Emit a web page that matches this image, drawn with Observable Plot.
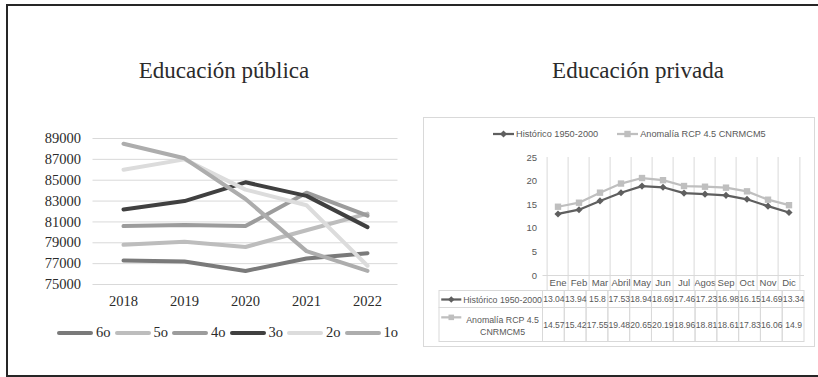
<!DOCTYPE html>
<html>
<head>
<meta charset="utf-8">
<script src="https://cdn.jsdelivr.net/npm/d3@7"></script>
<script src="https://cdn.jsdelivr.net/npm/@observablehq/plot@0.6"></script>
<style>
  html, body { margin: 0; padding: 0; background: #fff; }
  body { position: relative; width: 818px; height: 377px; overflow: hidden; }
  #frame { position: absolute; left: 6px; top: 4px; width: 900px; height: 369px;
           border: 2px solid #262626; border-right: none; }
  .title { position: absolute; font-family: "Liberation Serif", serif; font-size: 23px;
           line-height: 23px; color: #2b2b2b; white-space: nowrap; transform: translateX(-50%); }
  #pubLegend { position: absolute; left: 57px; top: 324px; display: flex; align-items: center;
               font-family: "Liberation Serif", serif; font-size: 14.5px; color: #2b2b2b; }
  #pubLegend .key { width: 36px; height: 4px; border-radius: 2px; margin-right: 3px; }
  #pubLegend .lab { margin-right: 4px; }
  #pubChart { position: absolute; left: 0; top: 120px; }
  #privBox { position: absolute; left: 423px; top: 117px; width: 392px; height: 230px;
             box-sizing: border-box; border: 1px solid #d9d9d9; background: #fff; }
  #privLegend { position: absolute; left: 69px; top: 11px; display: flex; align-items: center;
                font-family: "Liberation Sans", sans-serif; font-size: 9.2px; color: #595959; }
  #privLegend .item { display: flex; align-items: center; margin-right: 19px; }
  #privLegend svg { margin-right: 2px; }
  #privChart { position: absolute; left: 0; top: 0; }
  #privTable { position: absolute; left: 0; top: 172px; }
</style>
</head>
<body>
<div id="frame"></div>
<div class="title" style="left:224px; top:59px;">Educación pública</div>
<div class="title" style="left:638px; top:59px;">Educación privada</div>
<div id="pubChart"></div>
<div id="pubLegend"></div>
<div id="privBox">
  <div id="privLegend"></div>
  <div id="privChart"></div>
  <div id="privTable"></div>
</div>
<script>
// ---- Educación pública: enrolment by grade, 2018–2022 ----
const years = [2018, 2019, 2020, 2021, 2022];
const grades = ["6o", "5o", "4o", "3o", "2o", "1o"];
const grade6 = [77300, 77200, 76300, 77500, 78000];
const grade5 = [78800, 79100, 78600, 80200, 81800];
const grade4 = [80600, 80700, 80600, 83800, 81600];
const grade3 = [82200, 83000, 84800, 83500, 80500];
const grade2 = [86000, 87000, 84100, 82600, 76800];
const grade1 = [88500, 87100, 83200, 78200, 76300];
const enrolTicks = [75000, 77000, 79000, 81000, 83000, 85000, 87000, 89000];
const gradeColors = ["#7a7a7a", "#bdbdbd", "#9c9c9c", "#404040", "#dcdcdc", "#adadad"];

// ---- Educación privada: monthly temperature, historic vs RCP 4.5 ----
const months = ["Ene", "Feb", "Mar", "Abril", "May", "Jun", "Jul", "Agos", "Sep", "Oct", "Nov", "Dic"];
const historico = [13.04, 13.94, 15.8, 17.53, 18.94, 18.69, 17.46, 17.23, 16.98, 16.15, 14.69, 13.34];
const anomalia = [14.57, 15.42, 17.55, 19.48, 20.65, 20.19, 18.96, 18.81, 18.61, 17.83, 16.06, 14.9];
const tempTicks = [0, 5, 10, 15, 20, 25];
const seriesNames = ["Histórico 1950-2000", "Anomalía RCP 4.5 CNRMCM5"];

// Long-format rows for the public-school lines
const gradeSeries = [grade6, grade5, grade4, grade3, grade2, grade1];
const publicRows = grades.flatMap((g, k) => years.map((yr, i) => ({grade: g, year: yr, value: gradeSeries[k][i]})));

const pub = Plot.plot({
  width: 410, height: 200,
  marginLeft: 92.5, marginRight: 12.5, marginTop: 18, marginBottom: 36,
  style: {fontFamily: "Liberation Serif, serif", fontSize: "14.5px", color: "#2b2b2b", background: "transparent"},
  x: {type: "point", domain: years, padding: 0.5, label: null, tickSize: 0, tickPadding: 11, tickFormat: d => String(d)},
  y: {domain: [75000, 89000], ticks: enrolTicks, label: null, tickSize: 0, tickPadding: 12, tickFormat: d => String(d)},
  color: {domain: grades, range: gradeColors},
  marks: [
    Plot.ruleY(enrolTicks, {stroke: "#d9d9d9", strokeWidth: 1}),
    Plot.line(publicRows, {x: "year", y: "value", z: "grade", stroke: "grade",
      strokeWidth: 4, strokeLinecap: "round", strokeLinejoin: "round"})
  ]
});
document.getElementById("pubChart").append(pub);

// Legend for the grades
const pubLegend = document.getElementById("pubLegend");
grades.forEach((g, k) => {
  const key = document.createElement("span");
  key.className = "key";
  key.style.background = gradeColors[k];
  const lab = document.createElement("span");
  lab.className = "lab";
  lab.textContent = g;
  pubLegend.append(key, lab);
});

// ---- private-school chart ----
const histColor = "#5f5f5f";
const anomColor = "#bfbfbf";
const seriesStyle = [
  {name: seriesNames[0], values: historico, color: histColor, symbol: "diamond2", r: 3.2},
  {name: seriesNames[1], values: anomalia, color: anomColor, symbol: "square", r: 3.6}
];
const tempRows = seriesStyle.flatMap(s => months.map((m, i) => ({series: s.name, month: m, value: s.values[i]})));

// Legend keys: short line with the series marker
function keySvg(s) {
  const ns = "http://www.w3.org/2000/svg";
  const svg = document.createElementNS(ns, "svg");
  svg.setAttribute("width", 21); svg.setAttribute("height", 10);
  const line = document.createElementNS(ns, "line");
  line.setAttribute("x1", 0); line.setAttribute("x2", 21); line.setAttribute("y1", 5); line.setAttribute("y2", 5);
  line.setAttribute("stroke", s.color); line.setAttribute("stroke-width", 2.25);
  const mark = document.createElementNS(ns, "path");
  mark.setAttribute("d", d3.symbol(s.symbol === "square" ? d3.symbolSquare : d3.symbolDiamond2, Math.PI * s.r * s.r)());
  mark.setAttribute("transform", "translate(10.5,5)");
  mark.setAttribute("fill", s.color);
  svg.append(line, mark);
  return svg;
}
const privLegend = document.getElementById("privLegend");
seriesStyle.forEach(s => {
  const item = document.createElement("span");
  item.className = "item";
  const t = document.createElement("span");
  t.textContent = s.name;
  item.append(keySvg(s), t);
  privLegend.append(item);
});

const privWidth = 390, privLeft = 118.5, privRight = 10;
const step = (privWidth - privLeft - privRight) / months.length;
const smallFont = "Liberation Sans, sans-serif";

const priv = Plot.plot({
  width: privWidth, height: 172,
  marginLeft: privLeft, marginRight: privRight, marginTop: 39, marginBottom: 15,
  style: {fontFamily: smallFont, fontSize: "9.5px", color: "#595959", background: "transparent"},
  x: {type: "band", domain: months, padding: 0, label: null, tickSize: 0, tickPadding: 3.5},
  y: {domain: [0, 25], ticks: tempTicks, label: null, tickSize: 0, tickPadding: 6},
  marks: [
    Plot.ruleX(months, {x: d => d, dx: -step / 2, stroke: "#d9d9d9", insetBottom: -15}),
    Plot.ruleX(months.slice(-1), {x: d => d, dx: step / 2, stroke: "#d9d9d9", insetBottom: -15}),
    Plot.ruleY([0], {stroke: "#d9d9d9"}),
    ...seriesStyle.flatMap(s => {
      const rows = tempRows.filter(d => d.series === s.name);
      return [
        Plot.line(rows, {x: "month", y: "value", stroke: s.color, strokeWidth: 2.25, strokeLinejoin: "round"}),
        Plot.dot(rows, {x: "month", y: "value", symbol: s.symbol, r: s.r, fill: s.color, stroke: "none"})
      ];
    })
  ]
});
document.getElementById("privChart").append(priv);

// Data table under the chart: one header column, then one column per month
const hdr = (privLeft - 15) / step;          // header column width, in month columns
const tableRows = seriesStyle.map((s, k) => ({...s, top: k === 0 ? 0 : 1, bottom: k === 0 ? 1 : 3,
  label: k === 0 ? s.name : "Anomalía RCP 4.5\nCNRMCM5", keyY: k === 0 ? 0.5 : 1.55}));
const cells = tableRows.flatMap(r => months.map((m, i) => ({col: i, top: r.top, bottom: r.bottom, value: r.values[i]})));

const table = Plot.plot({
  width: privWidth, height: 53,
  marginLeft: 15, marginRight: privRight, marginTop: 0, marginBottom: 0,
  style: {fontFamily: smallFont, fontSize: "8.6px", color: "#595959", background: "transparent"},
  x: {domain: [-hdr, months.length], axis: null},
  y: {domain: [0, 3], range: [0.5, 51.5], axis: null},
  marks: [
    Plot.rect(tableRows, {x1: -hdr, x2: 0, y1: "top", y2: "bottom", fill: "none", stroke: "#d9d9d9"}),
    Plot.rect(cells, {x1: "col", x2: d => d.col + 1, y1: "top", y2: "bottom", fill: "none", stroke: "#d9d9d9"}),
    Plot.text(cells, {x: d => d.col + 0.5, y: d => (d.top + d.bottom) / 2, text: d => String(d.value), fill: "#595959"}),
    Plot.text(tableRows, {x: -hdr / 2 + 0.52, y: d => (d.top + d.bottom) / 2, text: "label", fill: "#595959",
      fontSize: 8.8, lineHeight: 1.4}),
    Plot.link(tableRows, {x1: -hdr + 0.08, x2: -hdr + 1.0, y1: "keyY", y2: "keyY", stroke: d => d.color, strokeWidth: 2.25}),
    Plot.dot(tableRows, {x: -hdr + 0.54, y: "keyY", symbol: d => d.symbol, r: d => d.r, fill: d => d.color, stroke: "none"})
  ]
});
document.getElementById("privTable").append(table);
</script>
</body>
</html>
